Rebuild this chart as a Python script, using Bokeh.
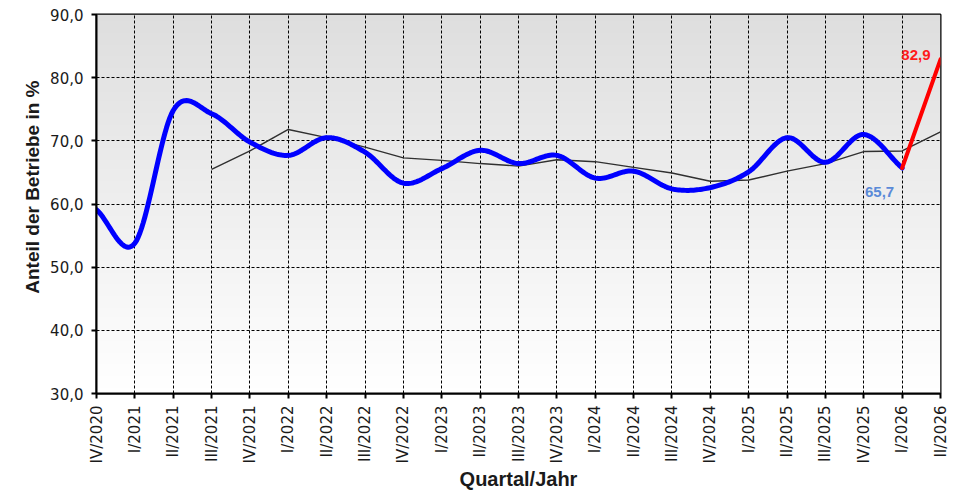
import numpy as np
from bokeh.plotting import figure
from bokeh.models import Range1d, FixedTicker, Title
from bokeh.core.properties import value
from bokeh.embed import file_html
from bokeh.resources import INLINE

# ---- data ----
quarters = ["IV/2020", "I/2021", "II/2021", "III/2021", "IV/2021", "I/2022", "II/2022",
            "III/2022", "IV/2022", "I/2023", "II/2023", "III/2023", "IV/2023", "I/2024",
            "II/2024", "III/2024", "IV/2024", "I/2025", "II/2025", "III/2025", "IV/2025",
            "I/2026", "II/2026"]
share_q = quarters[:22]
share = [59.1, 53.8, 74.8, 74.3, 69.8, 67.7, 70.5, 68.2, 63.3, 65.6, 68.5, 66.4,
         67.7, 64.1, 65.2, 62.4, 62.6, 65.1, 70.5, 66.6, 71.0, 65.7]
forecast_q = ["I/2026", "II/2026"]
forecast = [65.7, 82.9]
avg_q = quarters[3:]
avg = [65.5, 68.4, 71.8, 70.5, 69.0, 67.3, 66.9, 66.4, 66.0, 67.0, 66.7, 65.8,
       64.9, 63.6, 63.8, 65.2, 66.4, 68.3, 68.4, 71.4]
y_ticks = [30, 40, 50, 60, 70, 80, 90]
y_tick_labels = ["30,0", "40,0", "50,0", "60,0", "70,0", "80,0", "90,0"]


def fmt(v):
    return f"{v:.1f}".replace(".", ",")


def smooth(xs, ys, n=24):
    xs = np.asarray(xs, float)
    ys = np.asarray(ys, float)
    m = np.gradient(ys)
    ox, oy = [], []
    t = np.linspace(0, 1, n)
    h00 = 2 * t**3 - 3 * t**2 + 1
    h10 = t**3 - 2 * t**2 + t
    h01 = -2 * t**3 + 3 * t**2
    h11 = t**3 - t**2
    for i in range(len(xs) - 1):
        ox.extend(xs[i] + t * (xs[i + 1] - xs[i]))
        oy.extend(h00 * ys[i] + h10 * m[i] + h01 * ys[i + 1] + h11 * m[i + 1])
    return ox, oy


idx = {q: i for i, q in enumerate(quarters)}
x_lo, x_hi = 0, len(quarters) - 1
y_lo, y_hi = y_ticks[0], y_ticks[-1]

p = figure(width=952, height=494, output_backend="svg", toolbar_location=None,
           x_range=Range1d(x_lo, x_hi), y_range=Range1d(y_lo, y_hi),
           min_border_left=96, min_border_right=12, min_border_top=14,
           min_border_bottom=101)
p.background_fill_color = "white"
p.border_fill_color = "white"
p.outline_line_color = "black"
p.outline_line_width = 2

# gradient background
N = 128
img = np.empty((N, 2), dtype=np.uint32)
view = img.view(dtype=np.uint8).reshape((N, 2, 4))
for r in range(N):
    frac = r / (N - 1)
    c = int(round(255 - (255 - 222) * frac))
    view[r, :, 0] = c
    view[r, :, 1] = c
    view[r, :, 2] = c
    view[r, :, 3] = 255
bg = p.image_rgba(image=[img], x=x_lo, y=y_lo, dw=x_hi - x_lo, dh=y_hi - y_lo)
bg.level = "image"

# moving average (thin dark line)
p.line([idx[q] for q in avg_q], avg, line_color="#303030", line_width=1.4)

# smoothed blue line
sx, sy = smooth([idx[q] for q in share_q], share)
p.line(sx, sy, line_color="#0000ff", line_width=5, line_join="round", line_cap="round")

# forecast red
p.line([idx[q] for q in forecast_q], forecast, line_color="#ff0000", line_width=4,
       line_cap="round")

# labels
p.text(x=[idx[forecast_q[-1]]], y=[forecast[-1]], text=[fmt(forecast[-1])],
       text_color="#ff1a1a", text_font=value("Liberation Sans"),
       text_font_style="bold", text_font_size="15px", text_align="right",
       text_baseline="middle", x_offset=-10, y_offset=-4)
p.text(x=[idx[share_q[-1]]], y=[share[-1]], text=[fmt(share[-1])],
       text_color="#5a8ad8", text_font=value("Liberation Sans"),
       text_font_style="bold", text_font_size="15px", text_align="right",
       text_baseline="middle", x_offset=-8, y_offset=24)

# axes
p.xaxis.ticker = FixedTicker(ticks=list(range(len(quarters))))
p.xaxis.major_label_overrides = {i: q for i, q in enumerate(quarters)}
p.xaxis.major_label_orientation = np.pi / 2
p.yaxis.ticker = FixedTicker(ticks=y_ticks)
p.yaxis.major_label_overrides = {t: l for t, l in zip(y_ticks, y_tick_labels)}

for ax in (p.xaxis[0], p.yaxis[0]):
    ax.axis_line_color = "black"
    ax.axis_line_width = 2
    ax.major_tick_line_color = "black"
    ax.major_tick_line_width = 2
    ax.major_tick_out = 5
    ax.major_tick_in = 0
    ax.minor_tick_line_color = None
    ax.major_label_text_font = "DejaVu Sans"
    ax.major_label_text_font_size = "15px"
    ax.major_label_text_color = "#1a1a1a"
    ax.axis_label_text_font = "Liberation Sans"
    ax.axis_label_text_font_style = "bold"
    ax.axis_label_text_font_size = "20px"
    ax.axis_label_text_color = "#1a1a1a"

p.xaxis.axis_label = "Quartal/Jahr"
p.xaxis.major_label_standoff = 7
p.yaxis.major_label_standoff = 8
p.xaxis.axis_label_standoff = 2

ytitle = Title(text="Anteil der Betriebe in %", align="right", offset=66,
               text_font="Liberation Sans", text_font_style="bold",
               text_font_size="19px", text_color="#1a1a1a", standoff=10)
p.add_layout(ytitle, "left")

p.xgrid.ticker = FixedTicker(ticks=list(range(len(quarters))))
p.ygrid.ticker = FixedTicker(ticks=y_ticks)
for g in (p.xgrid[0], p.ygrid[0]):
    g.grid_line_color = "black"
    g.grid_line_alpha = 1.0
    g.grid_line_width = 1
    g.grid_line_dash = "3 2"

open("out.html", "w").write(file_html(p, INLINE))
